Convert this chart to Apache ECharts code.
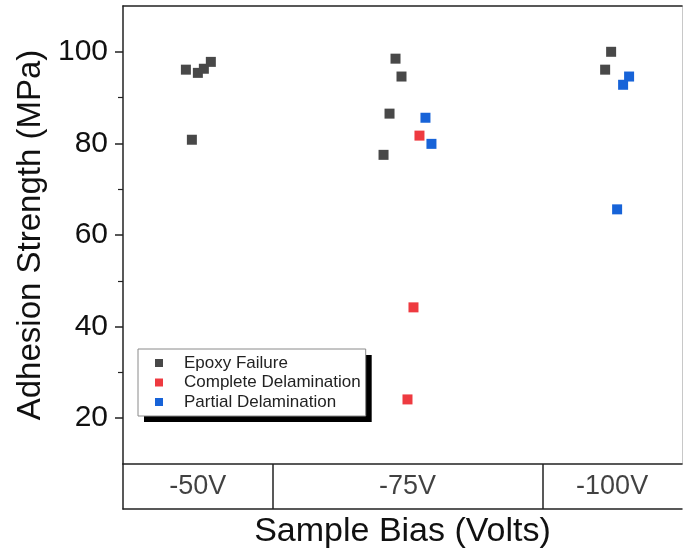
<!DOCTYPE html>
<html>
<head>
<meta charset="utf-8">
<script src="https://cdn.jsdelivr.net/npm/echarts@6/dist/echarts.min.js"></script>
<style>
html,body{margin:0;padding:0;background:#fff;}
#chart{width:683px;height:554px;}
</style>
</head>
<body>
<div id="chart"></div>
<script>
// ---- data (x = position along the sample-bias strip, y = adhesion strength MPa) ----
const categories = ['-50V', '-75V', '-100V'];
const categoryEdges = [0, 15, 42, 56];
const yTickValues = [20, 40, 60, 80, 100];
const yMinorTickValues = [30, 50, 70, 90];
const legendNames = ['Epoxy Failure', 'Complete Delamination', 'Partial Delamination'];
const epoxyFailure = [
  [6.3, 96.1], [7.5, 95.4], [8.1, 96.3], [8.8, 97.8], [6.9, 80.8],
  [27.3, 98.5], [27.9, 94.6], [26.7, 86.5], [26.1, 77.5],
  [48.9, 100.0], [48.3, 96.1]
];
const completeDelamination = [
  [29.7, 81.7], [29.1, 44.2], [28.5, 24.1]
];
const partialDelamination = [
  [30.3, 85.6], [30.9, 79.9],
  [50.7, 94.6], [50.1, 92.8], [49.5, 65.6]
];

const FONT = '"Liberation Sans", Arial, sans-serif';
const AX = '#222';
const xMin = categoryEdges[0], xMax = categoryEdges[categoryEdges.length - 1];
const catCenters = categories.map((c, i) => [(categoryEdges[i] + categoryEdges[i + 1]) / 2, 0.5, c]);
const dividers = categoryEdges.slice(1, -1).map(v => ({ xAxis: v }));

const legendBase = {
  data: legendNames,
  orient: 'vertical',
  left: 138, top: 349,
  icon: 'rect',
  itemWidth: 8, itemHeight: 8,
  itemGap: 1.5,
  padding: [5, 5, 5, 17]
};

const chart = echarts.init(document.getElementById('chart'), null, { renderer: 'canvas' });
chart.setOption({
  animation: false,
  backgroundColor: '#fff',
  textStyle: { fontFamily: FONT },
  grid: [
    { left: 123, top: 6, width: 559, height: 458 },
    { left: 123, top: 464, width: 559, height: 45 }
  ],
  legend: [
    Object.assign({}, legendBase, {
      backgroundColor: '#fff', borderWidth: 0,
      shadowColor: '#000', shadowBlur: 0, shadowOffsetX: 6, shadowOffsetY: 6,
      textStyle: { fontFamily: FONT, fontSize: 17, lineHeight: 18, color: '#222', padding: [0, 0, 0, 16] }
    }),
    Object.assign({}, legendBase, {
      backgroundColor: 'rgba(0,0,0,0)', borderColor: '#8a8a8a', borderWidth: 1,
      itemStyle: { opacity: 0 },
      textStyle: { fontFamily: FONT, fontSize: 17, lineHeight: 18, color: 'rgba(0,0,0,0)', padding: [0, 0, 0, 16] }
    })
  ],
  xAxis: [
    { gridIndex: 0, type: 'value', min: xMin, max: xMax, position: 'bottom',
      axisLine: { show: true, lineStyle: { color: AX, width: 1.5 } },
      axisTick: { show: false }, axisLabel: { show: false }, splitLine: { show: false } },
    { gridIndex: 0, type: 'value', min: xMin, max: xMax, position: 'top',
      axisLine: { show: true, lineStyle: { color: AX, width: 1.5 } },
      axisTick: { show: false }, axisLabel: { show: false }, splitLine: { show: false } },
    { gridIndex: 1, type: 'value', min: xMin, max: xMax, position: 'bottom',
      axisLine: { show: true, lineStyle: { color: AX, width: 1.5 } },
      axisTick: { show: false }, axisLabel: { show: false }, splitLine: { show: false },
      name: 'Sample Bias (Volts)', nameLocation: 'middle', nameGap: 6,
      nameTextStyle: { fontFamily: FONT, fontSize: 34, color: '#111', verticalAlign: 'top' } }
  ],
  yAxis: [
    { gridIndex: 0, type: 'value', min: 10, max: 110, interval: 10, position: 'left',
      axisLine: { show: true, lineStyle: { color: AX, width: 1.5 } },
      axisTick: { show: true, inside: false, length: 8, customValues: yTickValues, lineStyle: { color: AX, width: 1.5 } },
      axisLabel: { show: true, customValues: yTickValues, margin: 15, fontFamily: FONT, fontSize: 30, color: '#111' },
      splitLine: { show: false },
      name: 'Adhesion Strength (MPa)', nameLocation: 'middle', nameGap: 72,
      nameTextStyle: { fontFamily: FONT, fontSize: 33, color: '#111' } },
    { gridIndex: 0, type: 'value', min: 10, max: 110, interval: 10, position: 'left',
      axisLine: { show: false },
      axisTick: { show: true, inside: false, length: 5, customValues: yMinorTickValues, lineStyle: { color: AX, width: 1.2 } },
      axisLabel: { show: false }, splitLine: { show: false } },
    { gridIndex: 0, type: 'value', min: 10, max: 110, position: 'right',
      axisLine: { show: true, lineStyle: { color: '#c8c8c8', width: 1 } },
      axisTick: { show: false }, axisLabel: { show: false }, splitLine: { show: false } },
    { gridIndex: 1, type: 'value', min: 0, max: 1, position: 'left',
      axisLine: { show: true, lineStyle: { color: AX, width: 1.5 } },
      axisTick: { show: false }, axisLabel: { show: false }, splitLine: { show: false } }
  ],
  series: [
    { name: 'Epoxy Failure', type: 'scatter', xAxisIndex: 0, yAxisIndex: 0,
      symbol: 'rect', symbolSize: 10, itemStyle: { color: '#484848', opacity: 1 }, data: epoxyFailure },
    { name: 'Complete Delamination', type: 'scatter', xAxisIndex: 0, yAxisIndex: 0,
      symbol: 'rect', symbolSize: 10, itemStyle: { color: '#ee3a40', opacity: 1 }, data: completeDelamination },
    { name: 'Partial Delamination', type: 'scatter', xAxisIndex: 0, yAxisIndex: 0,
      symbol: 'rect', symbolSize: 10, itemStyle: { color: '#1763d8', opacity: 1 }, data: partialDelamination },
    { name: 'categories', type: 'scatter', xAxisIndex: 2, yAxisIndex: 3,
      symbolSize: 1, itemStyle: { color: 'rgba(0,0,0,0)' }, silent: true,
      label: { show: true, position: 'inside', formatter: p => p.value[2],
        fontFamily: FONT, fontSize: 27, color: '#111' },
      data: catCenters,
      markLine: { silent: true, symbol: ['none', 'none'], label: { show: false },
        lineStyle: { color: AX, width: 1.5, type: 'solid' }, data: dividers } }
  ]
});
</script>
</body>
</html>
